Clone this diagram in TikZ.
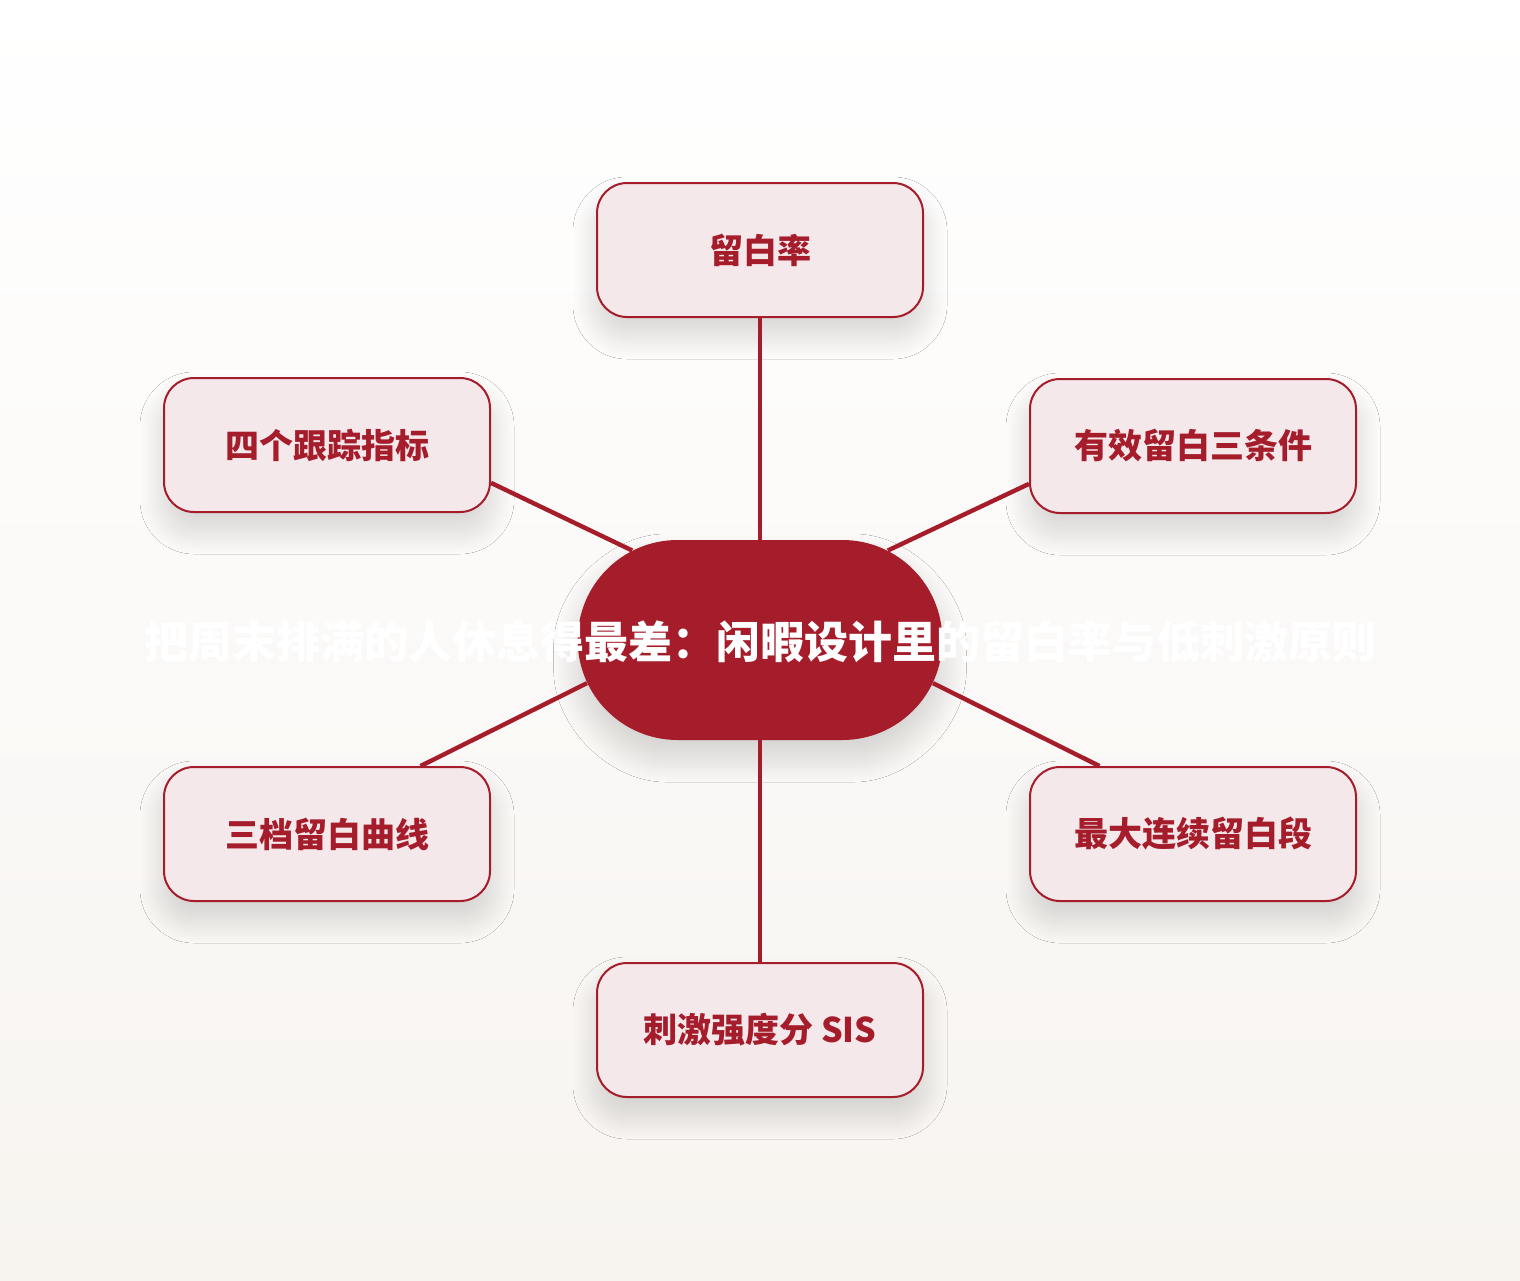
\documentclass[tikz,border=0pt]{standalone}
\usepackage{fontspec}
\setmainfont{Noto Sans CJK SC}
\usepackage{tikz}
\usetikzlibrary{shapes.misc}
\usetikzlibrary{shadows.blur}

\definecolor{wine}{HTML}{A51C2B}
\definecolor{blush}{HTML}{F4E8EB}
\definecolor{paper}{HTML}{F7F4F0}

\tikzset{
  soft/.style={blur shadow={shadow xshift=0pt, shadow yshift=-9pt, shadow blur steps=40,
    shadow blur radius=12pt, shadow opacity=16, shadow blur extra rounding=6pt}},
  topic/.style={draw=wine, line width=1pt, fill=blush, rounded corners=15pt,
    minimum width=163pt, minimum height=67pt, text=wine, font=\bfseries\fontsize{17pt}{20pt}\selectfont, soft},
  hub/.style={rounded rectangle, fill=wine, minimum width=189pt, minimum height=100pt, soft},
  link/.style={draw=wine, line width=2.2pt}
}

\begin{document}
\begin{tikzpicture}[x=0.5pt, y=-0.5pt]
\shade[top color=white, bottom color=paper] (0,0) rectangle (1520,1280);
\useasboundingbox (0,0) rectangle (1520,1280);

% centre
\node[hub] (hub) at (760,640) {};
\node[text=white, font=\bfseries\fontsize{22pt}{26pt}\selectfont] (title) at (760,642)
  {把周末排满的人休息得最差：闲暇设计里的留白率与低刺激原则};

% topics
\node[topic] (rate) at (760,250) {留白率};
\node[topic] (track) at (327,445) {四个跟踪指标};
\node[topic] (cond) at (1193,446) {有效留白三条件};
\node[topic] (curve) at (327,834) {三档留白曲线};
\node[topic] (span) at (1193,834) {最大连续留白段};
\node[topic] (sis) at (760,1030) {刺激强度分 SIS};

% links
\draw[link] (hub) -- (rate);
\draw[link] (hub) -- (sis);
\draw[link] (track.-13) -- (hub.145);
\draw[link] (cond.-167) -- (hub.35);
\draw[link] (curve.36) -- (hub.-166);
\draw[link] (span.144) -- (hub.-14);
\end{tikzpicture}
\end{document}
